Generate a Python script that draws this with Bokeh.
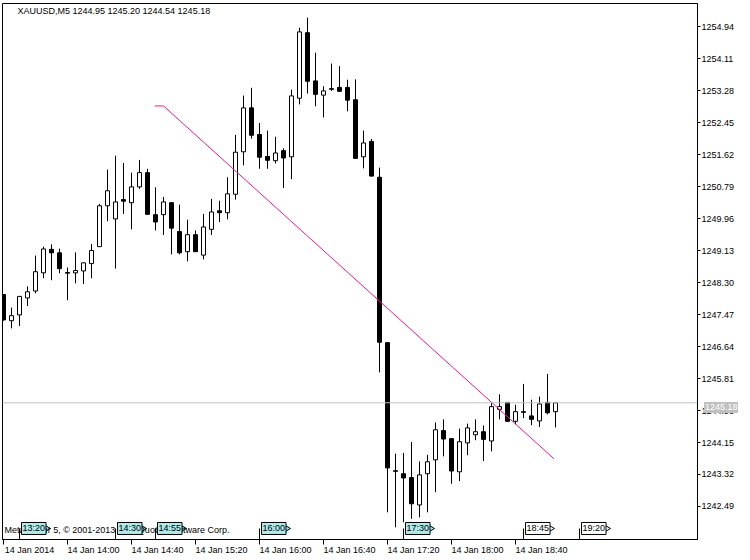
import numpy as np
from bokeh.plotting import figure
from bokeh.models import Range1d, FixedTicker, Label, Span, ColumnDataSource, LinearAxis, Div
from bokeh.layouts import column
from bokeh.embed import file_html
from bokeh.resources import INLINE

# ---------------- data ----------------
symbol = "XAUUSD,M5"
copyright_text = "MetaTrader 5, \u00a9 2001-2013 MetaQuotes Software Corp."

opens = [1247.99, 1247.31, 1247.46, 1247.90, 1248.08, 1248.55, 1249.16, 1249.07, 1248.55, 1248.55,
         1248.60, 1248.79, 1249.23, 1250.29, 1249.95, 1250.45, 1250.37, 1250.78, 1251.15, 1250.06,
         1250.06, 1250.37, 1249.62, 1249.10, 1249.54, 1249.01, 1249.68, 1250.16, 1250.11, 1250.59,
         1251.69, 1252.83, 1252.14, 1251.57, 1251.46, 1251.72, 1251.56, 1253.08, 1254.78, 1253.53,
         1253.16, 1253.32, 1253.36, 1253.36, 1253.04, 1251.56, 1251.96, 1251.03, 1246.74, 1243.41,
         1243.34, 1243.24, 1242.53, 1243.34, 1243.70, 1244.46, 1244.25, 1243.39, 1244.14, 1244.35,
         1244.43, 1244.19, 1245.01, 1245.19, 1244.70, 1244.94, 1244.84, 1244.71, 1245.19, 1244.95]
highs = [1248.00, 1247.65, 1247.95, 1248.20, 1249.00, 1249.23, 1249.29, 1249.18, 1248.69, 1249.08,
         1248.82, 1249.30, 1250.34, 1251.23, 1251.59, 1251.40, 1251.15, 1251.48, 1251.25, 1250.77,
         1250.52, 1250.38, 1250.32, 1249.93, 1249.65, 1250.08, 1250.47, 1250.42, 1251.03, 1252.13,
         1253.15, 1253.35, 1252.44, 1252.24, 1252.08, 1251.78, 1253.30, 1254.91, 1255.17, 1254.26,
         1253.39, 1253.98, 1253.91, 1253.56, 1253.57, 1252.24, 1252.02, 1251.28, 1246.75, 1243.86,
         1243.88, 1244.16, 1243.66, 1243.83, 1244.67, 1244.75, 1244.26, 1244.51, 1244.64, 1244.75,
         1244.59, 1245.20, 1245.40, 1245.20, 1245.13, 1245.67, 1245.26, 1245.34, 1245.93, 1245.20]
lows = [1247.31, 1247.11, 1247.17, 1247.69, 1248.02, 1248.41, 1248.36, 1248.54, 1247.84, 1248.28,
        1248.26, 1248.41, 1249.22, 1249.89, 1248.66, 1250.08, 1249.68, 1250.73, 1250.05, 1249.65,
        1249.53, 1249.03, 1249.03, 1248.85, 1249.09, 1248.90, 1249.53, 1249.87, 1249.94, 1250.45,
        1251.34, 1252.03, 1251.25, 1251.25, 1251.39, 1250.75, 1250.98, 1252.92, 1253.20, 1252.87,
        1252.58, 1253.27, 1253.24, 1252.74, 1251.51, 1251.26, 1251.05, 1245.97, 1242.34, 1241.95,
        1242.08, 1242.17, 1242.21, 1242.34, 1242.86, 1243.79, 1243.08, 1243.15, 1243.82, 1244.21,
        1243.67, 1243.92, 1244.75, 1244.68, 1244.62, 1244.78, 1244.60, 1244.55, 1244.88, 1244.54]
closes = [1247.33, 1247.44, 1247.94, 1248.06, 1248.58, 1249.17, 1249.07, 1248.66, 1248.55, 1248.61,
          1248.81, 1249.13, 1250.29, 1250.68, 1250.39, 1250.41, 1250.78, 1251.15, 1250.07, 1249.87,
          1250.39, 1249.71, 1249.07, 1249.54, 1249.10, 1249.74, 1250.13, 1250.11, 1250.60, 1251.68,
          1252.83, 1252.12, 1251.55, 1251.47, 1251.66, 1251.53, 1253.14, 1254.80, 1253.52, 1253.18,
          1253.27, 1253.32, 1253.26, 1253.03, 1251.52, 1251.92, 1251.06, 1246.75, 1243.49, 1243.41,
          1243.23, 1242.56, 1243.31, 1243.65, 1244.48, 1244.24, 1243.41, 1244.17, 1244.53, 1244.43,
          1244.23, 1245.08, 1245.08, 1244.70, 1244.95, 1244.94, 1244.75, 1245.15, 1244.92, 1245.18]

x_tick_bars = [0, 8, 16, 24, 32, 40, 48, 56, 64]
x_tick_labels = ["14 Jan 2014", "14 Jan 14:00", "14 Jan 14:40", "14 Jan 15:20", "14 Jan 16:00",
                 "14 Jan 16:40", "14 Jan 17:20", "14 Jan 18:00", "14 Jan 18:40"]
y_ticks = [1254.94, 1254.11, 1253.28, 1252.45, 1251.62, 1250.79, 1249.96, 1249.13,
           1248.30, 1247.47, 1246.64, 1245.81, 1244.98, 1244.15, 1243.32, 1242.49]

trend_bars = [18.9, 20.0, 68.8]
trend_prices = [1252.88, 1252.88, 1243.73]

tag_bars = [2, 14, 19, 32, 50, 65, 72]
tag_labels = ["13:20", "14:30", "14:55", "16:00", "17:30", "18:45", "19:20"]
tag_selected = [True, True, True, True, True, False, False]

# ---------------- style ----------------
FONT = "Liberation Sans"
FS = "9px"
X_START, X_END = -0.125, 86.75
Y_START, Y_END = 1241.634, 1255.537
LABEL_SHIFT = 3.25   # bars: centre of a left-aligned tick label
TAG_Y = 1241.92      # vertical position of the time tags (inside the frame bottom)
TAG_W = 3.3          # tag box width in bars (for the arrow tip)
CYAN = "#AEEAEA"

p = figure(width=750, height=560, x_range=Range1d(X_START, X_END), y_range=Range1d(Y_START, Y_END),
           output_backend="svg", toolbar_location=None, y_axis_location="right",
           min_border_left=2, min_border_top=3, min_border_right=53, min_border_bottom=21)
p.background_fill_color = "white"
p.border_fill_color = "white"
p.outline_line_color = "black"
p.outline_line_width = 1
p.xgrid.visible = False
p.ygrid.visible = False

# bottom axis: ticks only
xa = p.xaxis[0]
xa.ticker = FixedTicker(ticks=x_tick_bars)
xa.major_label_overrides = {b: "" for b in x_tick_bars}
xa.major_label_text_font_size = "0px"
xa.major_label_standoff = 0
xa.major_tick_in = 0
xa.major_tick_out = 5
xa.minor_tick_out = 0
xa.minor_tick_in = 0
xa.axis_line_color = "black"
xa.major_tick_line_color = "black"

# second bottom axis: labels only, shifted so they read left-aligned from the tick
p.extra_x_ranges = {"lbl": Range1d(X_START - LABEL_SHIFT, X_END - LABEL_SHIFT)}
xl = LinearAxis(x_range_name="lbl", ticker=FixedTicker(ticks=x_tick_bars),
                major_label_overrides={b: l for b, l in zip(x_tick_bars, x_tick_labels)},
                major_tick_in=0, major_tick_out=0, minor_tick_in=0, minor_tick_out=0,
                axis_line_color=None, major_label_standoff=0,
                major_label_text_font=FONT, major_label_text_font_size=FS,
                major_label_text_color="black")
p.add_layout(xl, "below")

ya = p.yaxis[0]
ya.ticker = FixedTicker(ticks=y_ticks)
ya.major_label_overrides = {t: f"{t:.2f}" for t in y_ticks}
ya.major_tick_in = 0
ya.major_tick_out = 3
ya.minor_tick_out = 0
ya.minor_tick_in = 0
ya.major_label_standoff = 1
ya.major_label_text_font = FONT
ya.major_label_text_font_size = FS
ya.major_label_text_color = "black"
ya.axis_line_color = "black"
ya.major_tick_line_color = "black"

# current price line
p.add_layout(Span(location=closes[-1], dimension="width", line_color="#C0C0C0", line_width=1))

o = np.array(opens); c = np.array(closes); h = np.array(highs); l = np.array(lows)
x = np.arange(len(o))
src = ColumnDataSource(dict(
    x=x, high=h, low=l,
    top=np.maximum(o, c), bottom=np.minimum(o, c),
    fill=["white" if cc >= oo else "black" for oo, cc in zip(o, c)],
))
p.segment(x0="x", y0="low", x1="x", y1="high", source=src, line_color="black", line_width=1)
p.vbar(x="x", width=0.5, top="top", bottom="bottom", source=src,
       fill_color="fill", line_color="black", line_width=1)
doji = o == c
p.segment(x0=x[doji] - 0.3, x1=x[doji] + 0.3, y0=o[doji], y1=o[doji], line_color="black", line_width=1)

# trend line
p.line(trend_bars, trend_prices, line_color="#FF1493", line_width=1)

# title
p.add_layout(Label(x=X_START, y=Y_END, x_offset=15, y_offset=-2,
                   text=f"{symbol}  {opens[-1]:.2f} {highs[-1]:.2f} {lows[-1]:.2f} {closes[-1]:.2f}",
                   text_font=FONT, text_font_size=FS, text_color="black",
                   text_baseline="top", text_align="left"))

# copyright
p.add_layout(Label(x=X_START, y=1241.87, x_offset=2, text=copyright_text,
                   text_font=FONT, text_font_size=FS, text_color="black",
                   text_baseline="middle", text_align="left"))

# time tags: stem, arrow tip, box with text
tb = np.array(tag_bars, dtype=float)
tag_fill = [CYAN if s else "white" for s in tag_selected]
p.segment(x0=tb, x1=tb, y0=[Y_START] * len(tb), y1=[TAG_Y] * len(tb), line_color="black", line_width=1)
p.scatter(x=tb + TAG_W, y=[TAG_Y] * len(tb), marker="triangle", angle=-np.pi / 2, size=8,
          fill_color=tag_fill, line_color="black", line_width=1)
for b, t, f in zip(tag_bars, tag_labels, tag_fill):
    p.add_layout(Label(x=b, y=TAG_Y, x_offset=2, text=t,
                       text_font=FONT, text_font_size=FS, text_color="black",
                       text_baseline="middle", text_align="left", padding=1,
                       background_fill_color=f,
                       border_line_color="black", border_line_width=1))

# price tag on the price axis (HTML overlay, positioned over the axis)
price_tag = Div(text=f"{closes[-1]:.2f}", width=34, height=11,
                styles={"position": "absolute", "left": "699px", "top": "397px",
                        "background-color": "#C0C0C0", "color": "white",
                        "font-family": FONT, "font-size": "9px", "line-height": "11px",
                        "padding-left": "1px", "overflow": "visible",
                        "white-space": "nowrap", "z-index": "10"})

layout = column(p, price_tag, spacing=0)
open("out.html", "w").write(file_html(layout, INLINE))
